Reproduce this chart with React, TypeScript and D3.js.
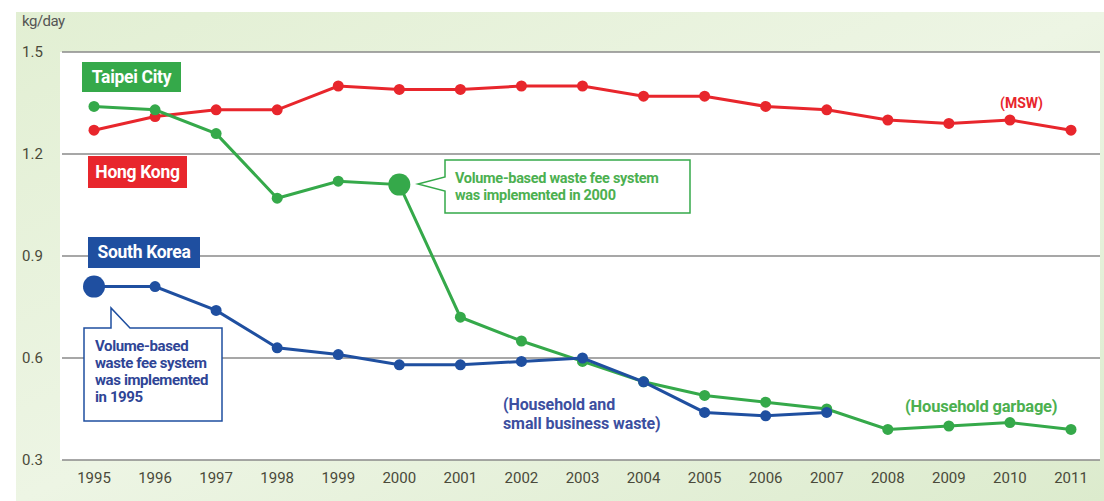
import React from "react";
import * as d3 from "d3";

const years = [1995, 1996, 1997, 1998, 1999, 2000, 2001, 2002, 2003, 2004, 2005, 2006, 2007, 2008, 2009, 2010, 2011];
const hongKong = [1.27, 1.31, 1.33, 1.33, 1.40, 1.39, 1.39, 1.40, 1.40, 1.37, 1.37, 1.34, 1.33, 1.30, 1.29, 1.30, 1.27];
const taipei = [1.34, 1.33, 1.26, 1.07, 1.12, 1.11, 0.72, 0.65, 0.59, 0.53, 0.49, 0.47, 0.45, 0.39, 0.40, 0.41, 0.39];
const southKorea = [0.81, 0.81, 0.74, 0.63, 0.61, 0.58, 0.58, 0.59, 0.60, 0.53, 0.44, 0.43, 0.44];
const yTicks = [0.3, 0.6, 0.9, 1.2, 1.5];

const W = 1104;
const H = 501;
const RED = "#e8262c";
const GREEN = "#35a94a";
const BLUE = "#1f4fa0";
const FONT = "'Roboto', Arial, sans-serif";

export default function App() {
  const x = d3.scalePoint<number>().domain(years).range([94, 1071]);
  const y = d3.scaleLinear().domain([0.3, 1.5]).range([460, 52]);
  const line = d3
    .line<number>()
    .x((_, i) => x(years[i]) as number)
    .y((d) => y(d));

  const series = [
    { name: "hk", values: hongKong, color: RED, big: -1 },
    { name: "tp", values: taipei, color: GREEN, big: 5 },
    { name: "sk", values: southKorea, color: BLUE, big: 0 },
  ];

  return (
    <svg
      width={W}
      height={H}
      style={{ position: "absolute", left: 0, top: 0, fontFamily: FONT }}
    >
      <defs>
        <linearGradient id="bg" x1="0" y1="0" x2="1" y2="1">
          <stop offset="0" stopColor="#e2efd3" />
          <stop offset="0.5" stopColor="#edf5e4" />
          <stop offset="1" stopColor="#dcebcd" />
        </linearGradient>
      </defs>
      <rect x={0} y={0} width={W} height={H} fill="#ffffff" />
      <rect x={16} y={12} width={W - 16} height={H - 12} fill="url(#bg)" />
      <rect x={60} y={52} width={1040} height={408} fill="#ffffff" />

      <text x={22} y={26} fontSize={15} fill="#555" letterSpacing={-0.5}>kg/day</text>

      {yTicks.map((t) => (
        <g key={t}>
          <line x1={62} x2={1100} y1={y(t)} y2={y(t)} stroke="#8a8a8a" strokeWidth={1.6} />
          <text x={22} y={y(t) + 5} fontSize={15} fill="#4a4a3a">
            {t.toFixed(1)}
          </text>
        </g>
      ))}

      {years.map((yr) => (
        <text
          key={yr}
          x={x(yr) as number}
          y={483}
          fontSize={15}
          textAnchor="middle"
          fill="#4a4a3a"
        >
          {yr}
        </text>
      ))}

      {series.map((s) => (
        <g key={s.name}>
          <path d={line(s.values) || ""} fill="none" stroke={s.color} strokeWidth={3} />
          {s.values.map((v, i) => (
            <circle
              key={i}
              cx={x(years[i]) as number}
              cy={y(v)}
              r={i === s.big ? 11 : 5.5}
              fill={s.color}
            />
          ))}
        </g>
      ))}

      {/* series name tags */}
      <rect x={82} y={62} width={99} height={30} fill={GREEN} />
      <text x={131.5} y={83} fontSize={17.5} fontWeight="bold" fill="#fff" textAnchor="middle" letterSpacing={-0.3}>Taipei City</text>
      <rect x={88} y={156} width={99} height={32} fill={RED} />
      <text x={137.5} y={178} fontSize={17.5} fontWeight="bold" fill="#fff" textAnchor="middle" letterSpacing={-0.3}>Hong Kong</text>
      <rect x={88} y={237} width={112} height={31} fill={BLUE} />
      <text x={144} y={258} fontSize={17.5} fontWeight="bold" fill="#fff" textAnchor="middle" letterSpacing={-0.3}>South Korea</text>

      {/* callout for South Korea */}
      <path
        d="M84,328 L111,328 L111,308 L130,328 L222,328 L222,421 L84,421 Z"
        fill="#ffffff"
        stroke={BLUE}
        strokeWidth={1.5}
      />
      <g fontSize={15} fontWeight="bold" fill="#2f4596" letterSpacing={-0.4}>
        <text x={95} y={351}>Volume-based</text>
        <text x={95} y={368}>waste fee system</text>
        <text x={95} y={385}>was implemented</text>
        <text x={95} y={402}>in 1995</text>
      </g>

      {/* callout for Taipei City */}
      <path
        d="M445,160 L690,160 L690,213 L445,213 L445,191 L418,184 L445,177 Z"
        fill="#ffffff"
        stroke={GREEN}
        strokeWidth={1.5}
      />
      <g fontSize={14.5} fontWeight="bold" fill="#4cb050" letterSpacing={-0.3}>
        <text x={455} y={183}>Volume-based waste fee system</text>
        <text x={455} y={200}>was implemented in 2000</text>
      </g>

      <text x={1000} y={108} fontSize={14} fontWeight="bold" fill={RED}>(MSW)</text>
      <text x={905} y={412} fontSize={16.5} fontWeight="bold" fill="#4cb050" letterSpacing={-0.2}>(Household garbage)</text>
      <g fontSize={16} fontWeight="bold" fill="#3c4fa0" letterSpacing={-0.1}>
        <text x={503} y={410}>(Household and</text>
        <text x={503} y={429}>small business waste)</text>
      </g>
    </svg>
  );
}
